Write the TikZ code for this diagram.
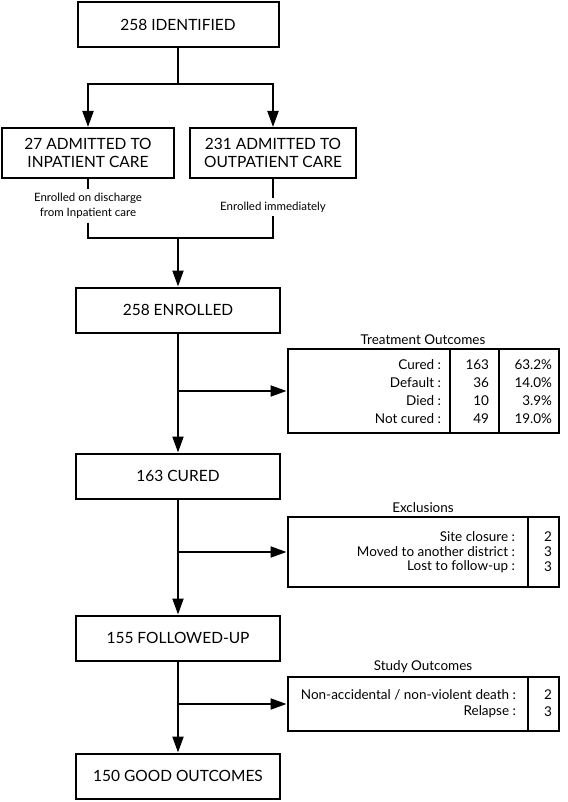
\documentclass[tikz,border=0pt]{standalone}
\usepackage{fontspec}
\setmainfont{Lato}
\usetikzlibrary{arrows.meta,positioning}

\begin{document}
\begin{tikzpicture}[
	x=1pt, y=-1pt,
	line width=2pt,
	arr/.style={-{Triangle[length=16pt,width=11pt]}},
	stage/.style={rectangle, draw, line width=2pt, minimum width=204pt, minimum height=45pt, inner sep=0pt, font=\fontsize{15.5}{18}\selectfont},
	admit/.style={rectangle, draw, line width=2pt, minimum height=50pt, inner sep=0pt, align=center, font=\fontsize{15.5}{18}\selectfont},
	note/.style={inner sep=3pt, align=center, font=\fontsize{11.5}{15}\selectfont},
	tbl/.style={rectangle, draw, line width=2pt, minimum width=271pt, inner sep=0pt},
	ttl/.style={inner sep=1pt, font=\fontsize{13.5}{15}\selectfont},
	cell/.style={anchor=east, inner sep=0pt, font=\fontsize{13.5}{15}\selectfont}
	]
	\useasboundingbox (0,0) rectangle (567,802);

	% main stages
	\node[stage, minimum width=201pt] (ident) at (178,25) {258 IDENTIFIED};
	\node[admit, minimum width=172pt] (inpat) at (88,153) {27 ADMITTED TO\\INPATIENT CARE};
	\node[admit, minimum width=166pt] (outpat) at (273,153) {231 ADMITTED TO\\OUTPATIENT CARE};
	\node[note] (lab1) at (88,206) {Enrolled on discharge\\from Inpatient care};
	\node[note] (lab2) at (273,207) {Enrolled immediately};
	\node[stage] (enrol) at (178,310) {258 ENROLLED};
	\node[stage] (cured) at (178,476) {163 CURED};
	\node[stage] (follow) at (178,638) {155 FOLLOWED-UP};
	\node[stage] (good) at (178,776) {150 GOOD OUTCOMES};

	% side tables
	\node[tbl, minimum height=84pt] (treat) at (423,391) {};
	\node[tbl, minimum height=70pt] (excl) at (423,552) {};
	\node[tbl, minimum height=54pt] (study) at (423,704) {};
	\node[ttl, above=1pt of treat] (treatttl) {Treatment Outcomes};
	\node[ttl, above=1pt of excl] (exclttl) {Exclusions};
	\node[ttl, above=1pt of study] (studyttl) {Study Outcomes};

	\draw (treat.north -| 450,0) -- (treat.south -| 450,0);
	\draw (treat.north -| 499,0) -- (treat.south -| 499,0);
	\draw (excl.north -| 528,0) -- (excl.south -| 528,0);
	\draw (study.north -| 528,0) -- (study.south -| 528,0);

	\foreach \y/\what/\n/\pc in {365/Cured :/163/63.2\%, 383/Default :/36/14.0\%, 401/Died :/10/3.9\%, 419/Not cured :/49/19.0\%} {
		\node[cell] at (442,\y) {\what};
		\node[cell] at (490,\y) {\n};
		\node[cell] at (553,\y) {\pc};
	}
	\foreach \y/\what/\n in {537/Site closure :/2, 552/Moved to another district :/3, 567/Lost to follow-up :/3} {
		\node[cell] at (516,\y) {\what};
		\node[cell] at (553,\y) {\n};
	}
	\foreach \y/\what/\n in {695/{Non-accidental / non-violent death :}/2, 712/Relapse :/3} {
		\node[cell] at (517,\y) {\what};
		\node[cell] at (553,\y) {\n};
	}

	% connectors
	\coordinate (split) at (178,84);
	\coordinate (merge) at (178,238);
	\draw (ident) -- (split);
	\draw[arr] (split) -| (inpat.north);
	\draw[arr] (split) -| (outpat.north);
	\draw (inpat) -- (lab1);
	\draw (outpat) -- (lab2);
	\draw (lab1) |- (merge);
	\draw (lab2) |- (merge);
	\draw[arr] (merge) -- (enrol);

	\draw[arr] (enrol) -- (cured);
	\draw[arr] (cured) -- (follow);
	\draw[arr] (follow) -- (good);
	\draw[arr] (enrol.south |- treat.west) -- (treat);
	\draw[arr] (cured.south |- excl.west) -- (excl);
	\draw[arr] (follow.south |- study.west) -- (study);
\end{tikzpicture}
\end{document}
